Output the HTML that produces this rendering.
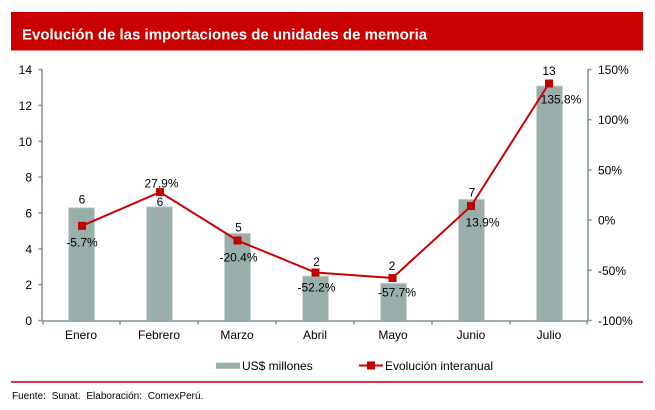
<!DOCTYPE html>
<html><head><meta charset="utf-8"><style>
html,body{margin:0;padding:0;background:#fff;}
svg{display:block;font-family:"Liberation Sans",Arial,sans-serif;}
</style></head><body>
<svg width="655" height="410" viewBox="0 0 655 410" xmlns="http://www.w3.org/2000/svg">
<rect x="0" y="0" width="655" height="410" fill="#fff"/>
<rect x="11" y="12" width="632" height="38.5" fill="#C80000"/>
<text x="22" y="39.5" font-size="15" font-weight="bold" fill="#fff">Evolución de las importaciones de unidades de memoria</text>

<!-- bars -->
<g fill="#9AAFAB" stroke="#CDD8D6" stroke-width="1">
<rect x="68.5" y="207.7" width="26" height="112.8"/>
<rect x="146.5" y="206.7" width="26" height="113.8"/>
<rect x="224.5" y="233.3" width="26" height="87.2"/>
<rect x="302.5" y="276" width="26" height="44.5"/>
<rect x="380.5" y="283.3" width="26" height="37.2"/>
<rect x="458.5" y="199.3" width="26" height="121.2"/>
<rect x="536.5" y="86" width="26" height="234.5"/>
</g>

<!-- axes -->
<g stroke="#7F9693" stroke-width="1.5" fill="none">
<line x1="42" y1="69" x2="42" y2="321"/>
<line x1="588" y1="69" x2="588" y2="321"/>
<line x1="42" y1="321" x2="588" y2="321"/>
<!-- left ticks -->
<line x1="38.5" y1="69.5" x2="42" y2="69.5"/>
<line x1="38.5" y1="105.4" x2="42" y2="105.4"/>
<line x1="38.5" y1="141.3" x2="42" y2="141.3"/>
<line x1="38.5" y1="177.1" x2="42" y2="177.1"/>
<line x1="38.5" y1="213" x2="42" y2="213"/>
<line x1="38.5" y1="248.8" x2="42" y2="248.8"/>
<line x1="38.5" y1="284.7" x2="42" y2="284.7"/>
<line x1="38.5" y1="320.5" x2="42" y2="320.5"/>
<!-- right ticks -->
<line x1="588" y1="69.5" x2="591.5" y2="69.5"/>
<line x1="588" y1="119.7" x2="591.5" y2="119.7"/>
<line x1="588" y1="169.9" x2="591.5" y2="169.9"/>
<line x1="588" y1="220.1" x2="591.5" y2="220.1"/>
<line x1="588" y1="270.3" x2="591.5" y2="270.3"/>
<line x1="588" y1="320.5" x2="591.5" y2="320.5"/>
<!-- x ticks -->
<line x1="43" y1="321" x2="43" y2="324.5"/>
<line x1="120" y1="321" x2="120" y2="324.5"/>
<line x1="198" y1="321" x2="198" y2="324.5"/>
<line x1="276" y1="321" x2="276" y2="324.5"/>
<line x1="354" y1="321" x2="354" y2="324.5"/>
<line x1="432" y1="321" x2="432" y2="324.5"/>
<line x1="510" y1="321" x2="510" y2="324.5"/>
<line x1="587" y1="321" x2="587" y2="324.5"/>
</g>

<!-- left labels -->
<g font-size="12" fill="#000" text-anchor="end">
<text x="32" y="74">14</text>
<text x="32" y="109.9">12</text>
<text x="32" y="145.8">10</text>
<text x="32" y="181.6">8</text>
<text x="32" y="217.5">6</text>
<text x="32" y="253.3">4</text>
<text x="32" y="289.2">2</text>
<text x="32" y="325">0</text>
</g>
<!-- right labels -->
<g font-size="12" fill="#000">
<text x="598" y="74">150%</text>
<text x="598" y="124.2">100%</text>
<text x="598" y="174.4">50%</text>
<text x="598" y="224.6">0%</text>
<text x="598" y="274.8">-50%</text>
<text x="598" y="325">-100%</text>
</g>
<!-- categories -->
<g font-size="12" fill="#000" text-anchor="middle">
<text x="81" y="339">Enero</text>
<text x="159" y="339">Febrero</text>
<text x="237" y="339">Marzo</text>
<text x="315" y="339">Abril</text>
<text x="393" y="339">Mayo</text>
<text x="471" y="339">Junio</text>
<text x="549" y="339">Julio</text>
</g>

<!-- line -->
<polyline points="82,225.8 160,192.1 237.5,240.5 315.5,272.5 392.5,278 471,206.1 549,83.5" fill="none" stroke="#CC0000" stroke-width="2"/>
<g fill="#C00000">
<rect x="78" y="221.8" width="8" height="8"/>
<rect x="156" y="188.1" width="8" height="8"/>
<rect x="233.5" y="236.5" width="8" height="8"/>
<rect x="311.5" y="268.5" width="8" height="8"/>
<rect x="388.5" y="274" width="8" height="8"/>
<rect x="467" y="202.1" width="8" height="8"/>
<rect x="545" y="79.5" width="8" height="8"/>
</g>

<!-- data labels -->
<g font-size="12" fill="#000" text-anchor="middle">
<text x="82" y="203.3">6</text>
<text x="160" y="206">6</text>
<text x="238.5" y="231.7">5</text>
<text x="316.5" y="266">2</text>
<text x="392" y="270">2</text>
<text x="472" y="196.7">7</text>
<text x="549" y="75">13</text>

<text x="82" y="246.7">-5.7%</text>
<text x="161.5" y="187.5">27.9%</text>
<text x="238.5" y="261.7">-20.4%</text>
<text x="316.5" y="291.7">-52.2%</text>
<text x="397" y="296.7">-57.7%</text>
<text x="482.5" y="226.7">13.9%</text>
<text x="561" y="103.3">135.8%</text>
</g>

<!-- legend -->
<rect x="216" y="362.7" width="24" height="6" fill="#9AAFAB"/>
<text x="242" y="369.8" font-size="12" fill="#000">US$ millones</text>
<line x1="359" y1="365.5" x2="383" y2="365.5" stroke="#CC0000" stroke-width="2"/>
<rect x="367" y="361.5" width="8" height="8" fill="#C00000"/>
<text x="385" y="369.8" font-size="12" fill="#000">Evolución interanual</text>

<!-- bottom rule -->
<rect x="11" y="381" width="632" height="2" fill="#E0304F"/>
<text x="12" y="399" font-size="10" word-spacing="3" fill="#000">Fuente: Sunat. Elaboración: ComexPerú.</text>
</svg>
</body></html>
